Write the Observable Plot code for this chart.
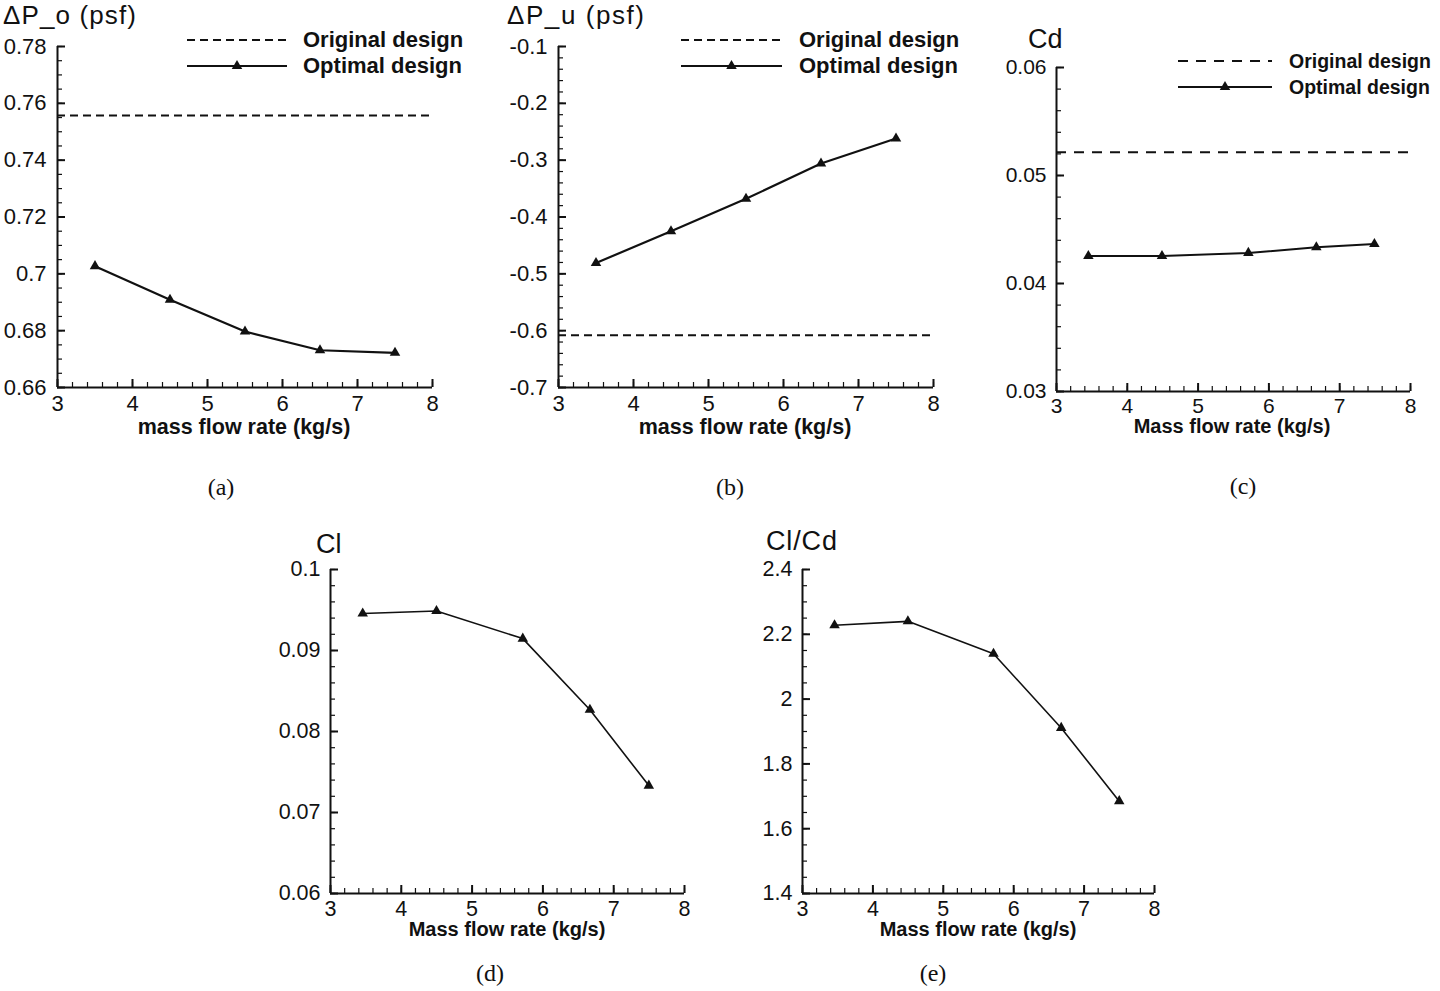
<!DOCTYPE html>
<html>
<head>
<meta charset="utf-8">
<script src="https://cdn.jsdelivr.net/npm/d3@7"></script>
<script src="https://cdn.jsdelivr.net/npm/@observablehq/plot@0.6"></script>
<style>
  html, body { margin: 0; padding: 0; background: #fff; }
  #root { position: relative; width: 1440px; height: 991px; overflow: hidden; background: #fff; }
  #root > svg, #root > figure { position: absolute; margin: 0; }
  .ovl { pointer-events: none; }
</style>
</head>
<body>
<div id="root"></div>
<script>
// ---------------- data ----------------
const flowA = [3.5, 4.5, 5.5, 6.5, 7.5];
const dPoOptimal = [0.7027, 0.6909, 0.6797, 0.6731, 0.6722];
const dPoOriginal = 0.7557;

const flowB = [3.5, 4.5, 5.5, 6.5, 7.5];
const dPuOptimal = [-0.481, -0.425, -0.368, -0.306, -0.262];
const dPuOriginal = -0.608;

const flowC = [3.45, 4.49, 5.71, 6.67, 7.49];
const cdOptimal = [0.04255, 0.04255, 0.04283, 0.04335, 0.04366];
const cdOriginal = 0.05215;

const flowD = [3.455, 4.497, 5.716, 6.664, 7.496];
const clOptimal = [0.09456, 0.09488, 0.09147, 0.08268, 0.07332];

const flowE = [3.455, 4.497, 5.713, 6.675, 7.499];
const clcdOptimal = [2.228, 2.240, 2.140, 1.911, 1.685];

// tick labels
const xTicks = [3, 4, 5, 6, 7, 8];
const yTicksA = [0.66, 0.68, 0.7, 0.72, 0.74, 0.76, 0.78];
const yTicksB = [-0.7, -0.6, -0.5, -0.4, -0.3, -0.2, -0.1];
const yTicksC = [0.03, 0.04, 0.05, 0.06];
const yTicksD = [0.06, 0.07, 0.08, 0.09, 0.1];
const yTicksE = [1.4, 1.6, 1.8, 2, 2.2, 2.4];

const legendLabels = ["Original design", "Optimal design"];

// ---------------- helpers ----------------
const INK = "#111";
const root = document.getElementById("root");
const minor = (a, b, step) => d3.range(Math.round((b - a) / step) + 1).map(i => +(a + i * step).toFixed(6));

function panel(cfg) {
  const mL = 70, mT = 12, mR = 20, mB = 40;
  const fw = cfg.x1 - cfg.x0, fh = cfg.y1 - cfg.y0;
  const [ymin, ymax] = cfg.yDomain;
  const data = cfg.xs.map((x, i) => ({x, y: cfg.ys[i]}));
  const marks = [
    // minor + major ticks (inside)
    Plot.tickX(minor(3, 8, 0.2), {x: d => d, stroke: INK, strokeWidth: 1.2, insetTop: fh - 5}),
    Plot.tickX(xTicks, {x: d => d, stroke: INK, strokeWidth: 2, insetTop: fh - 8}),
    Plot.tickY(minor(ymin, ymax, cfg.yMinor), {y: d => d, stroke: INK, strokeWidth: 1.2, insetRight: fw - 5}),
    Plot.tickY(cfg.yTicks, {y: d => d, stroke: INK, strokeWidth: 2, insetRight: fw - 8}),
    // axis lines (left & bottom only)
    Plot.ruleX([3], {stroke: INK, strokeWidth: 2}),
    Plot.ruleY([ymin], {stroke: INK, strokeWidth: 2}),
    Plot.axisX(xTicks, {tickSize: 0, tickPadding: cfg.xPad, fontSize: cfg.tickFont, tickFormat: d => String(d), label: null, fill: INK}),
    Plot.axisY(cfg.yTicks, {tickSize: 0, tickPadding: cfg.yPad, fontSize: cfg.tickFont, tickFormat: d => String(d), label: null, fill: INK}),
  ];
  if (cfg.original != null) {
    marks.push(Plot.ruleY([cfg.original], {stroke: INK, strokeWidth: 2, strokeDasharray: cfg.dash}));
  }
  marks.push(Plot.line(data, {x: "x", y: "y", stroke: INK, strokeWidth: cfg.lineW}));
  marks.push(Plot.dot(data, {x: "x", y: "y", symbol: "triangle", r: 3.9, fill: INK, stroke: "none"}));

  const svg = Plot.plot({
    width: fw + mL + mR,
    height: fh + mT + mB,
    marginLeft: mL, marginRight: mR, marginTop: mT, marginBottom: mB,
    x: {domain: [3, 8]},
    y: {domain: cfg.yDomain},
    style: {fontFamily: "'Liberation Sans', Arial, sans-serif", background: "transparent", overflow: "visible", color: INK},
    marks
  });
  svg.style.left = (cfg.x0 - mL) + "px";
  svg.style.top = (cfg.y0 - mT) + "px";
  root.appendChild(svg);
}

panel({x0: 57, x1: 432, y0: 46, y1: 387, yDomain: [0.66, 0.78], yTicks: yTicksA, yMinor: 0.005,
       xs: flowA, ys: dPoOptimal, original: dPoOriginal, dash: "8,5", lineW: 2.2, tickFont: 22, yPad: 11, xPad: 8});
panel({x0: 558, x1: 933, y0: 46, y1: 387, yDomain: [-0.7, -0.1], yTicks: yTicksB, yMinor: 0.02,
       xs: flowB, ys: dPuOptimal, original: dPuOriginal, dash: "8,5", lineW: 2.2, tickFont: 22, yPad: 11, xPad: 8});
panel({x0: 1056, x1: 1410, y0: 67, y1: 391, yDomain: [0.03, 0.06], yTicks: yTicksC, yMinor: 0.002,
       xs: flowC, ys: cdOptimal, original: cdOriginal, dash: "10,8", lineW: 2, tickFont: 21, yPad: 10, xPad: 7});
panel({x0: 330, x1: 684, y0: 569, y1: 893, yDomain: [0.06, 0.1], yTicks: yTicksD, yMinor: 0.002,
       xs: flowD, ys: clOptimal, original: null, lineW: 1.6, tickFont: 21.5, yPad: 10, xPad: 7});
panel({x0: 802, x1: 1154, y0: 569, y1: 893, yDomain: [1.4, 2.4], yTicks: yTicksE, yMinor: 0.05,
       xs: flowE, ys: clcdOptimal, original: null, lineW: 1.6, tickFont: 21.5, yPad: 10, xPad: 7});

// ---------------- overlay text: titles, legends, captions ----------------
const NS = "http://www.w3.org/2000/svg";
const ovl = document.createElementNS(NS, "svg");
ovl.setAttribute("class", "ovl");
ovl.setAttribute("width", 1440);
ovl.setAttribute("height", 991);
ovl.style.left = "0px"; ovl.style.top = "0px";
root.appendChild(ovl);

function txt(s, x, y, opt = {}) {
  const t = document.createElementNS(NS, "text");
  t.textContent = s;
  t.setAttribute("x", x); t.setAttribute("y", y);
  t.setAttribute("fill", INK);
  t.setAttribute("font-family", opt.serif ? "'Liberation Serif', 'Times New Roman', serif" : "'Liberation Sans', Arial, sans-serif");
  t.setAttribute("font-size", opt.size || 20);
  if (opt.bold) t.setAttribute("font-weight", "bold");
  if (opt.anchor) t.setAttribute("text-anchor", opt.anchor);
  if (opt.len) { t.setAttribute("textLength", opt.len); t.setAttribute("lengthAdjust", "spacing"); }
  ovl.appendChild(t);
}
function seg(x1, x2, y, dash) {
  const l = document.createElementNS(NS, "line");
  l.setAttribute("x1", x1); l.setAttribute("x2", x2); l.setAttribute("y1", y); l.setAttribute("y2", y);
  l.setAttribute("stroke", INK); l.setAttribute("stroke-width", 2);
  if (dash) l.setAttribute("stroke-dasharray", dash);
  ovl.appendChild(l);
}
function tri(cx, cy) {
  const p = document.createElementNS(NS, "path");
  p.setAttribute("d", d3.symbol(d3.symbolTriangle, Math.PI * 3.9 * 3.9)());
  p.setAttribute("transform", `translate(${cx},${cy})`);
  p.setAttribute("fill", INK);
  ovl.appendChild(p);
}
function legend(x1, x2, y1, y2, tx, size, dash, dy) {
  seg(x1, x2, y1, dash);
  txt(legendLabels[0], tx, y1 + dy, {size, bold: true});
  seg(x1, x2, y2);
  tri((x1 + x2) / 2, y2);
  txt(legendLabels[1], tx, y2 + dy, {size, bold: true});
}

// panel (a)
txt("ΔP_o (psf)", 3, 24, {size: 26, len: 133});
txt("mass flow rate (kg/s)", 244, 434, {size: 21.5, bold: true, anchor: "middle"});
legend(187, 287, 40, 66, 303, 22, "8,5", 7);
txt("(a)", 221, 495, {size: 24, serif: true, anchor: "middle"});

// panel (b)
txt("ΔP_u (psf)", 507, 24, {size: 26, len: 137});
txt("mass flow rate (kg/s)", 745, 434, {size: 21.5, bold: true, anchor: "middle"});
legend(681, 782, 40, 66, 799, 22, "8,5", 7);
txt("(b)", 730, 495, {size: 24, serif: true, anchor: "middle"});

// panel (c)
txt("Cd", 1028, 48, {size: 27});
txt("Mass flow rate (kg/s)", 1232, 433, {size: 20, bold: true, anchor: "middle"});
legend(1178, 1272, 61, 87, 1289, 19.5, "10,8", 6.5);
txt("(c)", 1243, 494, {size: 24, serif: true, anchor: "middle"});

// panel (d)
txt("Cl", 316, 553, {size: 27});
txt("Mass flow rate (kg/s)", 507, 936, {size: 20, bold: true, anchor: "middle"});
txt("(d)", 490, 981, {size: 24, serif: true, anchor: "middle"});

// panel (e)
txt("Cl/Cd", 766, 550, {size: 27, len: 71});
txt("Mass flow rate (kg/s)", 978, 936, {size: 20, bold: true, anchor: "middle"});
txt("(e)", 933, 981, {size: 24, serif: true, anchor: "middle"});
</script>
</body>
</html>
